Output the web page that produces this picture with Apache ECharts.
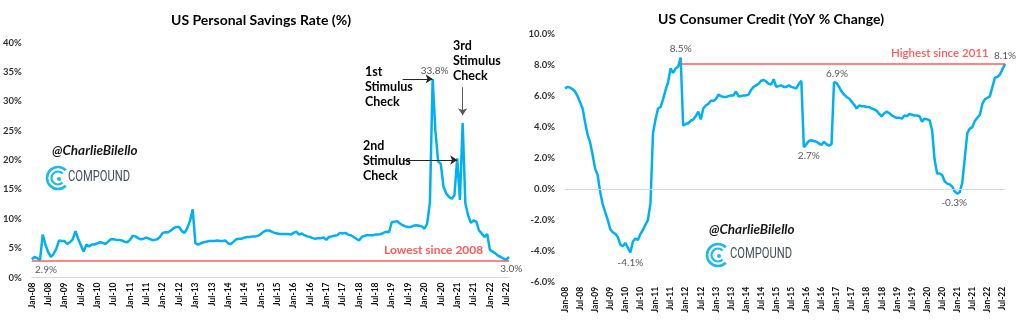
<!DOCTYPE html>
<html><head><meta charset="utf-8">
<script src="https://cdn.jsdelivr.net/npm/echarts@6/dist/echarts.min.js"></script>
<style>html,body{margin:0;padding:0;background:#fff}#c{width:1024px;height:323px}</style>
</head><body><div id="c"></div>
<script>
// ---------- DATA ----------
const monthNames = ['Jan','Feb','Mar','Apr','May','Jun','Jul','Aug','Sep','Oct','Nov','Dec'];
const yearSuffixes = ['08','09','10','11','12','13','14','15','16','17','18','19','20','21','22'];
const monthCount = 176; // Jan-08 .. Aug-22
const categories = [];
for (const y of yearSuffixes) for (const m of monthNames) if (categories.length < monthCount) categories.push(m + '-' + y);

// US Personal Savings Rate (%)
const sav2008 = [3.1, 3.5, 3.3, 2.9, 7.3, 5.6, 4.3, 3.5, 4.0, 4.9, 6.3, 6.2];
const sav2009 = [6.2, 5.7, 6.0, 6.5, 7.9, 6.6, 5.5, 4.4, 5.6, 5.3, 5.6, 5.6];
const sav2010 = [5.8, 6.0, 5.9, 5.7, 6.1, 6.5, 6.5, 6.4, 6.4, 6.3, 6.1, 6.0];
const sav2011 = [6.4, 7.1, 7.0, 6.7, 6.5, 6.6, 6.8, 6.6, 6.4, 6.4, 6.5, 6.9];
const sav2012 = [7.6, 7.7, 7.7, 8.0, 8.4, 8.6, 8.6, 7.9, 7.6, 8.4, 9.6, 11.6];
const sav2013 = [5.8, 5.6, 5.8, 6.0, 6.1, 6.2, 6.2, 6.2, 6.3, 6.2, 6.2, 6.3];
const sav2014 = [5.8, 5.7, 6.1, 6.5, 6.6, 6.6, 6.8, 6.9, 6.9, 7.0, 7.0, 7.1];
const sav2015 = [7.4, 7.8, 8.0, 8.0, 7.8, 7.6, 7.5, 7.4, 7.4, 7.4, 7.4, 7.3];
const sav2016 = [7.6, 7.8, 7.3, 7.5, 7.2, 7.0, 6.9, 6.7, 6.6, 6.7, 6.7, 6.8];
const sav2017 = [6.4, 6.9, 7.0, 7.1, 7.2, 7.6, 7.5, 7.6, 7.3, 7.2, 6.9, 6.6];
const sav2018 = [6.3, 6.9, 7.1, 7.2, 7.2, 7.2, 7.3, 7.3, 7.4, 7.6, 7.8, 7.7];
const sav2019 = [9.4, 9.5, 9.6, 9.2, 8.9, 8.7, 8.6, 8.6, 8.8, 8.9, 8.8, 8.7];
const sav2020 = [8.3, 9.2, 12.8, 33.8, 25.0, 19.8, 19.3, 15.4, 14.3, 13.7, 13.4, 14.0];
const sav2021 = [20.3, 13.2, 26.3, 12.6, 10.6, 9.3, 9.7, 9.5, 8.0, 7.5, 6.9, 7.4];
const sav2022 = [4.7, 4.4, 4.1, 3.7, 3.5, 3.2, 3.0, 3.5];
const savingsRate = [].concat(sav2008, sav2009, sav2010, sav2011, sav2012, sav2013, sav2014,
  sav2015, sav2016, sav2017, sav2018, sav2019, sav2020, sav2021, sav2022);

// US Consumer Credit (YoY % change)
const cc2008 = [6.5, 6.6, 6.55, 6.45, 6.3, 6.0, 5.6, 5.2, 4.3, 3.5, 3.0, 2.2];
const cc2009 = [1.3, 0.9, -0.2, -1.0, -1.5, -2.0, -2.6, -2.8, -2.9, -3.1, -3.6, -3.7];
const cc2010 = [-3.5, -3.8, -4.1, -3.4, -3.2, -3.3, -2.9, -2.65, -2.3, -2.0, -0.9, 3.6];
const cc2011 = [4.5, 5.2, 5.3, 5.8, 6.4, 6.9, 7.8, 7.5, 7.8, 7.9, 8.5, 4.1];
const cc2012 = [4.2, 4.25, 4.4, 4.5, 4.7, 5.0, 4.5, 5.2, 5.4, 5.5, 5.7, 5.7];
const cc2013 = [5.8, 6.1, 6.0, 5.95, 5.95, 6.0, 6.05, 6.05, 6.3, 6.0, 6.0, 6.05];
const cc2014 = [6.05, 6.1, 6.4, 6.6, 6.7, 6.8, 7.0, 7.05, 6.95, 6.8, 6.75, 7.1];
const cc2015 = [6.6, 6.65, 6.7, 6.6, 6.6, 6.7, 6.6, 6.55, 6.5, 6.8, 7.0, 2.7];
const cc2016 = [2.9, 3.1, 3.15, 3.1, 3.05, 2.95, 2.85, 3.05, 2.9, 2.8, 2.9, 6.9];
const cc2017 = [6.85, 6.6, 6.3, 6.1, 5.95, 5.85, 5.65, 5.45, 5.2, 5.4, 5.35, 5.35];
const cc2018 = [5.3, 5.3, 5.2, 5.15, 5.05, 4.85, 4.7, 4.9, 5.0, 4.9, 4.75, 4.65];
const cc2019 = [4.6, 4.6, 4.55, 4.75, 4.7, 4.85, 4.8, 4.75, 4.75, 4.7, 4.35, 4.55];
const cc2020 = [4.5, 4.45, 3.8, 1.9, 1.0, 1.0, 0.9, 0.5, 0.35, 0.3, 0.15, -0.15];
const cc2021 = [-0.3, -0.2, 0.4, 2.0, 3.6, 3.9, 4.0, 4.4, 4.6, 4.8, 5.5, 5.8];
const cc2022 = [5.9, 6.0, 6.6, 7.2, 7.25, 7.4, 7.75, 8.1];
const consumerCredit = [].concat(cc2008, cc2009, cc2010, cc2011, cc2012, cc2013, cc2014,
  cc2015, cc2016, cc2017, cc2018, cc2019, cc2020, cc2021, cc2022);

// Annotated points (category labels)
const savingsLabelled = ['Apr-08', 'Apr-20', 'Jul-22'];
const creditLabelled = ['Mar-10', 'Nov-11', 'Dec-15', 'Dec-16', 'Jan-21', 'Aug-22'];
const savingsFloor = 2.9;   // "Lowest since 2008"
const creditCeiling = 8.1;  // "Highest since 2011"

// ---------- CHART ----------
const FONT = 'Lato';
const BLUE = '#00B0F0';
const RED = '#FF5B5B';
const chart = echarts.init(document.getElementById('c'), null, {renderer: 'canvas'});

const valAt = (arr, cat) => arr[categories.indexOf(cat)];
const pct1 = v => v.toFixed(1) + '%';

function labelPoint(arr, cat, pos, offset) {
  const v = valAt(arr, cat);
  return {
    coord: [cat, v], value: pct1(v), symbol: 'circle', symbolSize: 0,
    label: {show: true, position: pos, offset: offset || [0, 0], formatter: '{c}',
      color: '#595959', fontSize: 10, fontFamily: FONT, distance: 3}
  };
}

function arrow(from, to, color) {
  return [
    {coord: from, symbol: 'none', lineStyle: {color: color, width: 1, type: 'solid'}},
    {coord: to, symbol: 'arrow', symbolSize: 7}
  ];
}

const xLabel = {interval: 5, rotate: 90, fontSize: 8.5, fontWeight: 'bold', color: '#111', margin: 5, fontFamily: FONT};
const yLabelStyle = {fontSize: 9.5, fontWeight: 'bold', color: '#333', margin: 10, fontFamily: FONT};

function compoundLogo(cx, cy) {
  return [
    {type: 'arc', shape: {cx: cx, cy: cy, r: 11, startAngle: Math.PI / 4, endAngle: -Math.PI / 4, clockwise: true},
      style: {stroke: '#1FB8EA', lineWidth: 2.6, fill: null}, silent: true},
    {type: 'arc', shape: {cx: cx, cy: cy, r: 6.5, startAngle: Math.PI / 4, endAngle: -Math.PI / 4, clockwise: true},
      style: {stroke: '#1FB8EA', lineWidth: 2.2, fill: null}, silent: true},
    {type: 'circle', shape: {cx: cx + 1, cy: cy + 1, r: 2}, style: {fill: '#1FB8EA'}, silent: true}
  ];
}

const option = {
  animation: false,
  textStyle: {fontFamily: FONT},
  title: [
    {text: 'US Personal Savings Rate (%)', left: 256, top: 8, textAlign: 'center',
      textStyle: {fontSize: 14, fontWeight: 'bold', color: '#000', fontFamily: FONT}},
    {text: 'US Consumer Credit (YoY % Change)', left: 766, top: 7, textAlign: 'center',
      textStyle: {fontSize: 14, fontWeight: 'bold', color: '#000', fontFamily: FONT}}
  ],
  grid: [
    {left: 30, right: 515, top: 42.5, bottom: 45.5},
    {left: 565, right: 19, top: 34.3, bottom: 41.2}
  ],
  xAxis: [
    {type: 'category', gridIndex: 0, data: categories, boundaryGap: false,
      axisLine: {show: true, lineStyle: {color: '#d9d9d9', width: 1}}, axisTick: {show: false},
      axisLabel: xLabel, splitLine: {show: false}},
    {type: 'category', gridIndex: 1, data: categories, boundaryGap: false,
      axisLine: {show: false}, axisTick: {show: false},
      axisLabel: xLabel, splitLine: {show: false}}
  ],
  yAxis: [
    {type: 'value', gridIndex: 0, min: 0, max: 40, interval: 5,
      axisLine: {show: false}, axisTick: {show: false}, splitLine: {show: false},
      axisLabel: Object.assign({formatter: v => v + '%'}, yLabelStyle)},
    {type: 'value', gridIndex: 1, min: -6, max: 10, interval: 2,
      axisLine: {show: false}, axisTick: {show: false}, splitLine: {show: false},
      axisLabel: Object.assign({formatter: v => v.toFixed(1) + '%'}, yLabelStyle)}
  ],
  series: [
    {
      name: 'US Personal Savings Rate', type: 'line', xAxisIndex: 0, yAxisIndex: 0,
      data: savingsRate, showSymbol: false, symbol: 'none', z: 3,
      lineStyle: {color: BLUE, width: 2.5}, itemStyle: {color: BLUE},
      markLine: {
        silent: true, symbol: ['none', 'none'], label: {show: false}, animation: false,
        data: [
          {yAxis: savingsFloor, lineStyle: {color: RED, width: 1.5, type: 'solid'}},
          arrow(['May-19', valAt(savingsRate, 'Apr-20')], ['Apr-20', valAt(savingsRate, 'Apr-20')], '#262626'),
          arrow(['May-19', 20], ['Jan-21', 20], '#262626'),
          arrow(['Mar-21', 32.4], ['Mar-21', 27.6], '#595959')
        ]
      },
      markPoint: {
        silent: true, animation: false,
        data: [
          labelPoint(savingsRate, savingsLabelled[0], 'bottom', [6, 1]),
          labelPoint(savingsRate, savingsLabelled[1], 'top', [2, 0]),
          labelPoint(savingsRate, savingsLabelled[2], 'bottom', [5, 1])
        ]
      }
    },
    {
      name: 'US Consumer Credit', type: 'line', xAxisIndex: 1, yAxisIndex: 1,
      data: consumerCredit, showSymbol: false, symbol: 'none', z: 3,
      lineStyle: {color: BLUE, width: 2.5}, itemStyle: {color: BLUE},
      markLine: {
        silent: true, symbol: ['none', 'none'], label: {show: false}, animation: false,
        data: [
          {yAxis: 0, lineStyle: {color: '#d9d9d9', width: 1, type: 'solid'}},
          [{coord: ['Nov-11', creditCeiling], lineStyle: {color: RED, width: 1.5, type: 'solid'}},
           {coord: [categories[categories.length - 1], creditCeiling]}]
        ]
      },
      markPoint: {
        silent: true, animation: false,
        data: [
          labelPoint(consumerCredit, creditLabelled[0], 'bottom', [0, 2]),
          labelPoint(consumerCredit, creditLabelled[1], 'top', [0, -1]),
          labelPoint(consumerCredit, creditLabelled[2], 'bottom', [5, 1]),
          labelPoint(consumerCredit, creditLabelled[3], 'top', [3, 0]),
          labelPoint(consumerCredit, creditLabelled[4], 'bottom', [-3, 1]),
          labelPoint(consumerCredit, creditLabelled[5], 'top', [0, 0])
        ]
      }
    }
  ],
  graphic: [
    // annotations left
    {type: 'text', left: 365, top: 64, silent: true,
      style: {text: '1st\nStimulus\nCheck', font: 'bold 12.5px Lato', fill: '#000', lineHeight: 15}},
    {type: 'text', left: 363, top: 138, silent: true,
      style: {text: '2nd\nStimulus\nCheck', font: 'bold 12.5px Lato', fill: '#000', lineHeight: 15}},
    {type: 'text', left: 453, top: 38, silent: true,
      style: {text: '3rd\nStimulus\nCheck', font: 'bold 12.5px Lato', fill: '#000', lineHeight: 15}},
    {type: 'text', left: 384, top: 244, silent: true,
      style: {text: 'Lowest since 2008', font: 'bold 12px Lato', fill: RED}},
    {type: 'text', left: 891, top: 47, silent: true,
      style: {text: 'Highest since 2011', font: '600 11.5px Lato', fill: RED}},
    // watermark left
    {type: 'text', left: 52, top: 144, silent: true,
      style: {text: '@CharlieBilello', font: 'italic bold 13.5px Lato', fill: '#1a1a1a'}},
    {type: 'text', left: 68, top: 170, silent: true, scaleX: 0.8,
      style: {text: 'COMPOUND', font: '14px Roboto', fill: '#44505c'}},
    // watermark right
    {type: 'text', left: 709, top: 223, silent: true,
      style: {text: '@CharlieBilello', font: 'italic bold 13.5px Lato', fill: '#1a1a1a'}},
    {type: 'text', left: 730, top: 247, silent: true, scaleX: 0.8,
      style: {text: 'COMPOUND', font: '14px Roboto', fill: '#44505c'}}
  ].concat(compoundLogo(58, 178), compoundLogo(718, 255))
};
chart.setOption(option);
</script>
</body></html>
